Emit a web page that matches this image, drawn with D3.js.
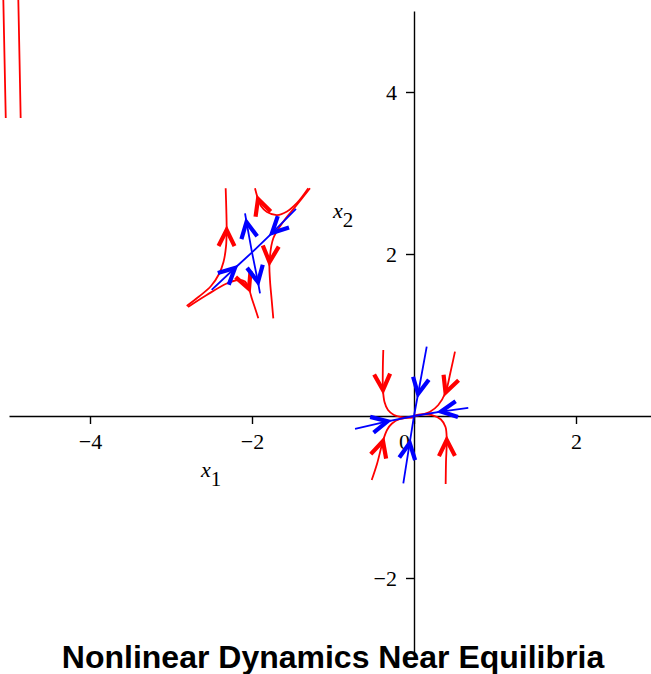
<!DOCTYPE html>
<html>
<head>
<meta charset="utf-8">
<script src="https://cdn.jsdelivr.net/npm/d3@7"></script>
<style>
  body { margin: 0; background: #fff; }
  svg { display: block; }
</style>
</head>
<body>
<svg id="chart" width="651" height="674"></svg>
<script>
// tick values
var xTicks = [-4, -2, 0, 2];
var yTicks = [-2, 2, 4];

// saddle near (-2, 2): red trajectories, ordered along the flow
var saddleA = [[-2.806, 1.358], [-2.654, 1.475], [-2.506, 1.605], [-2.407, 1.753], [-2.352, 1.901],
               [-2.321, 2.090], [-2.313, 2.296], [-2.317, 2.543], [-2.325, 2.811]];
var saddleB = [[-2.790, 1.346], [-2.559, 1.494], [-2.312, 1.636], [-2.169, 1.679], [-2.086, 1.660],
               [-2.037, 1.568], [-2.000, 1.444], [-1.963, 1.333], [-1.922, 1.206]];
var saddleC = [[-1.305, 2.811], [-1.444, 2.630], [-1.568, 2.525], [-1.691, 2.481], [-1.815, 2.519],
               [-1.889, 2.593], [-1.926, 2.679], [-1.963, 2.811]];
var saddleD = [[-1.284, 2.811], [-1.448, 2.605], [-1.614, 2.399], [-1.737, 2.194], [-1.784, 1.901],
               [-1.778, 1.679], [-1.757, 1.432], [-1.737, 1.206]];
// saddle eigen-directions (blue)
var saddleIn1  = [[-1.457, 2.556], [-1.753, 2.259], [-2.000, 2.020]];
var saddleIn2  = [[-2.498, 1.556], [-2.210, 1.827], [-2.000, 2.020]];
var saddleOut1 = [[-2.000, 2.020], [-2.068, 2.395], [-2.086, 2.502]];
var saddleOut2 = [[-2.000, 2.020], [-1.926, 1.654], [-1.901, 1.514]];

// node at the origin: red trajectories
var nodeE = [[-0.379, 0.815], [-0.385, 0.568], [-0.383, 0.321], [-0.364, 0.173], [-0.321, 0.074],
             [-0.247, 0.012], [-0.136, -0.016], [-0.012, -0.019]];
var nodeF = [[-0.522, -0.790], [-0.457, -0.593], [-0.383, -0.309], [-0.333, -0.173], [-0.272, -0.093],
             [-0.173, -0.037], [-0.028, -0.016]];
var nodeG = [[0.506, 0.794], [0.451, 0.543], [0.389, 0.290], [0.300, 0.136], [0.198, 0.053],
             [0.074, 0.012], [-0.009, 0.000]];
var nodeH = [[0.391, -0.840], [0.395, -0.568], [0.404, -0.296], [0.389, -0.136], [0.333, -0.043],
             [0.222, 0.012], [0.074, 0.019], [-0.009, 0.000]];
// node eigen-directions (blue)
var nodeIn1 = [[-0.728, -0.160], [-0.327, -0.065], [0, 0]];
var nodeIn2 = [[0.670, 0.100], [0.333, 0.055], [0, 0]];
var nodeIn3 = [[0.157, 0.856], [0.050, 0.272], [0, 0]];
var nodeIn4 = [[-0.132, -0.831], [-0.053, -0.333], [0, 0]];

// far-left red trajectories (top-left corner)
var farLeft1 = [[-5.070, 5.136], [-5.055, 4.400], [-5.040, 3.679]];
var farLeft2 = [[-4.885, 5.136], [-4.870, 4.400], [-4.856, 3.679]];

var svg = d3.select("#chart");
var x = d3.scaleLinear().domain([-5, 3]).range([9, 657]);
var y = d3.scaleLinear().domain([-3, 5]).range([659, 11]);

var fmt = function (d) { return d < 0 ? "\u2212" + Math.abs(d) : String(d); };

// axes
var gx = svg.append("g")
  .attr("transform", "translate(0," + y(0) + ")")
  .call(d3.axisBottom(x).tickValues(xTicks).tickSize(8).tickSizeOuter(0).tickPadding(9).tickFormat(fmt));
var gy = svg.append("g")
  .attr("transform", "translate(" + x(0) + ",0)")
  .call(d3.axisLeft(y).tickValues(yTicks).tickSize(8).tickSizeOuter(0).tickPadding(9).tickFormat(fmt));
[gx, gy].forEach(function (g) {
  g.attr("font-family", "'Liberation Serif', 'Times New Roman', serif").attr("font-size", 22);
  g.selectAll("path, line").attr("stroke", "#000").attr("stroke-width", 1.4);
});
gx.selectAll(".tick").filter(function (d) { return d === 0; }).select("text").attr("dx", -10);

// axis labels
function axisLabel(px, py, sub) {
  var t = svg.append("text")
    .attr("x", px).attr("y", py)
    .attr("font-family", "'Liberation Serif', 'Times New Roman', serif")
    .attr("font-size", 22);
  t.append("tspan").attr("font-style", "italic").text("x");
  t.append("tspan").attr("dy", 9).attr("font-size", 21).text(sub);
}
axisLabel(201, 477, "1");
axisLabel(333, 218, "2");

// trajectories
var red = [
  { pts: saddleA, a: 6 }, { pts: saddleB, a: 5 }, { pts: saddleC, a: 6 }, { pts: saddleD, a: 4 },
  { pts: nodeE, a: 2 }, { pts: nodeF, a: 2 }, { pts: nodeG, a: 2 }, { pts: nodeH, a: 2 },
  { pts: farLeft1, a: -1 }, { pts: farLeft2, a: -1 }
];
var blue = [
  { pts: saddleIn1, a: 1 }, { pts: saddleIn2, a: 1 }, { pts: saddleOut1, a: 1 }, { pts: saddleOut2, a: 1 },
  { pts: nodeIn1, a: 1 }, { pts: nodeIn2, a: 1 }, { pts: nodeIn3, a: 1 }, { pts: nodeIn4, a: 1 }
];

var smooth = d3.line().x(function (d) { return x(d[0]); }).y(function (d) { return y(d[1]); })
  .curve(d3.curveCatmullRom.alpha(0.5));
var straight = d3.line().x(function (d) { return x(d[0]); }).y(function (d) { return y(d[1]); });

function arrowPath(t) {
  var p = t.pts, i = t.a;
  var px = x(p[i][0]), py = y(p[i][1]);
  var dx = x(p[i + 1][0]) - x(p[i - 1][0]), dy = y(p[i + 1][1]) - y(p[i - 1][1]);
  var len = Math.sqrt(dx * dx + dy * dy);
  dx /= len; dy /= len;
  var L = 16, W = 8;
  return "M" + (px - L * dx - W * dy) + "," + (py - L * dy + W * dx) +
         "L" + px + "," + py +
         "L" + (px - L * dx + W * dy) + "," + (py - L * dy - W * dx);
}

function drawSet(set, color, gen) {
  var g = svg.append("g");
  g.selectAll("path.traj").data(set).enter().append("path")
    .attr("class", "traj")
    .attr("d", function (d) { return gen(d.pts); })
    .attr("fill", "none").attr("stroke", color).attr("stroke-width", 1.8);
  g.selectAll("path.arrow").data(set.filter(function (d) { return d.a > 0; })).enter().append("path")
    .attr("class", "arrow")
    .attr("d", arrowPath)
    .attr("fill", "none").attr("stroke", color).attr("stroke-width", 4.2)
    .attr("stroke-linejoin", "miter");
}
drawSet(red, "#ff0000", smooth);
drawSet(blue, "#0000ff", straight);

// title
svg.append("text")
  .attr("x", 333).attr("y", 668)
  .attr("text-anchor", "middle")
  .attr("font-family", "'Liberation Sans', Arial, Helvetica, sans-serif")
  .attr("font-weight", "bold")
  .attr("font-size", 32)
  .text("Nonlinear Dynamics Near Equilibria");
</script>
</body>
</html>
